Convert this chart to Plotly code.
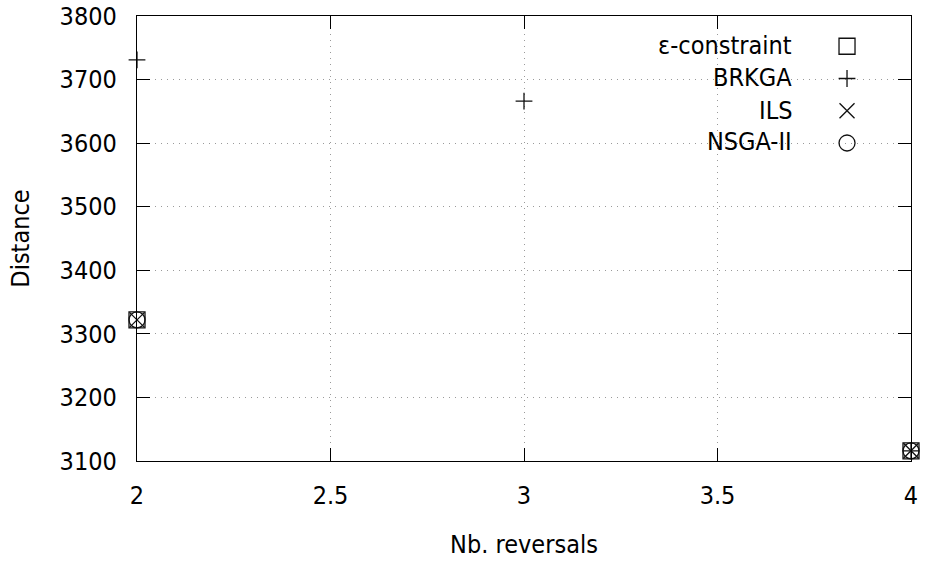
import plotly.graph_objects as go

# ---- data ----
series_names = ["ε-constraint", "BRKGA", "ILS", "NSGA-II"]
eps_x = [2, 4]
eps_y = [3322, 3116]
brkga_x = [2, 3, 4]
brkga_y = [3731, 3666, 3116]
ils_x = [2, 4]
ils_y = [3322, 3116]
nsga_x = [2, 4]
nsga_y = [3322, 3116]

x_ticks = [2, 2.5, 3, 3.5, 4]
x_tick_labels = ["2", "2.5", "3", "3.5", "4"]
y_ticks = [3100, 3200, 3300, 3400, 3500, 3600, 3700, 3800]

FONT = "DejaVu Sans Condensed, DejaVu Sans, sans-serif"
FS = 25

fig = go.Figure()
series = [
    (eps_x, eps_y, "square-open", 16),
    (brkga_x, brkga_y, "cross-thin-open", 12),
    (ils_x, ils_y, "x-thin-open", 15),
    (nsga_x, nsga_y, "circle-open", 16),
]
for name, (xs, ys, sym, sz) in zip(series_names, series):
    fig.add_trace(go.Scatter(
        x=xs, y=ys, mode="markers", name=" ",
        marker=dict(symbol=sym, size=sz, color="#111111",
                    line=dict(color="#111111", width=1.3)),
        cliponaxis=False, showlegend=True,
    ))

# legend labels (text right-aligned, to the left of the symbols)
label_y = [0.9348, 0.8622, 0.7872, 0.7175]
for name, yy in zip(series_names, label_y):
    fig.add_annotation(x=0.849, y=yy, xref="paper", yref="paper",
                       text=name, showarrow=False, xanchor="right",
                       yanchor="middle", font=dict(family=FONT, size=FS, color="black"))

# blank the grid behind the key, as gnuplot does
fig.add_shape(type="rect", xref="paper", yref="paper",
              x0=0.621, x1=0.982, y0=0.676, y1=0.973,
              fillcolor="white", line=dict(width=0), layer="between")

axis_common = dict(
    showline=True, linecolor="black", linewidth=1.3, mirror="ticks",
    ticks="inside", ticklen=13, tickwidth=1.3, tickcolor="black",
    showgrid=True, gridcolor="#9a9a9a", gridwidth=1, griddash="1px,5px",
    zeroline=False,
    tickfont=dict(family=FONT, size=FS, color="black"),
)

fig.update_xaxes(
    range=[2, 4], tickvals=x_ticks, ticktext=x_tick_labels,
    title=dict(text="Nb. reversals", font=dict(family=FONT, size=FS, color="black"), standoff=26),
    ticklabelstandoff=12,
    **axis_common,
)
fig.update_yaxes(
    range=[3100, 3800], tickvals=y_ticks,
    title=dict(text="Distance", font=dict(family=FONT, size=FS, color="black"), standoff=22),
    ticklabelstandoff=14,
    **axis_common,
)

fig.update_layout(
    width=927, height=563,
    margin=dict(l=137, r=16, t=16, b=102, autoexpand=False),
    paper_bgcolor="white", plot_bgcolor="white",
    font=dict(family=FONT, size=FS, color="black"),
    legend=dict(x=0.8915, y=0.9795, xanchor="left", yanchor="top",
                bgcolor="rgba(0,0,0,0)", borderwidth=0,
                font=dict(family=FONT, size=22.5), itemwidth=30),
    showlegend=True,
)

fig.write_html("out.html", config={"displayModeBar": False},
               post_script="document.body.style.margin='0px';")
